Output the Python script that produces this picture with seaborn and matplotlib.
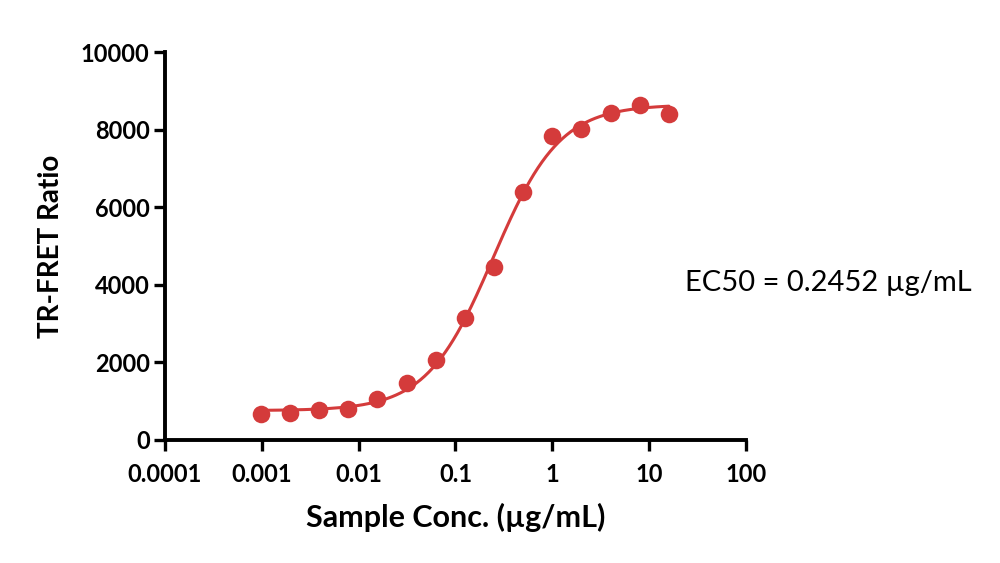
import numpy as np
import pandas as pd
import matplotlib
matplotlib.use("Agg")
import matplotlib.pyplot as plt
import seaborn as sns

# ---- data ----
conc = [0.0009766, 0.001953, 0.003906, 0.007813, 0.01563, 0.03125, 0.0625,
        0.125, 0.25, 0.5, 1, 2, 4, 8, 16]
signal = [676, 692, 754, 805, 1045, 1466, 2052, 3143, 4459, 6395, 7840,
          8031, 8434, 8650, 8408]
ec50 = 0.2452
x_ticks = [0.0001, 0.001, 0.01, 0.1, 1, 10, 100]
x_tick_labels = ["0.0001", "0.001", "0.01", "0.1", "1", "10", "100"]
y_ticks = [0, 2000, 4000, 6000, 8000, 10000]

# ---- 4PL fit with fixed EC50 (grid over Hill slope, linear LSQ for bottom/top) ----
xd = np.array(conc)
yd = np.array(signal, dtype=float)
best = None
for h in np.linspace(0.5, 3.0, 501):
    f = 1.0 / (1.0 + (ec50 / xd) ** h)
    A = np.column_stack([1 - f, f])
    coef, *_ = np.linalg.lstsq(A, yd, rcond=None)
    err = np.sum((A @ coef - yd) ** 2)
    if best is None or err < best[0]:
        best = (err, h, coef)
_, hill, (bottom, top) = best
xf = np.logspace(np.log10(xd.min()), np.log10(xd.max()), 300)
yf = bottom + (top - bottom) / (1.0 + (ec50 / xf) ** hill)

pts = pd.DataFrame({"conc": conc, "signal": signal})
fit = pd.DataFrame({"conc": xf, "signal": yf})

sns.set_style("ticks")
plt.rcParams["font.family"] = ["Lato", "DejaVu Sans"]
plt.rcParams["text.color"] = "black"
plt.rcParams["axes.labelcolor"] = "black"
plt.rcParams["xtick.color"] = "black"
plt.rcParams["ytick.color"] = "black"

red = "#D43B3B"
fig = plt.figure(figsize=(10, 5.63), dpi=100)
ax = fig.add_axes([0.165, 0.219, 0.581, 0.688])

sns.lineplot(data=fit, x="conc", y="signal", ax=ax, color=red, linewidth=2.2)
sns.scatterplot(data=pts, x="conc", y="signal", ax=ax, color=red, s=160,
                edgecolor=red, linewidth=0, zorder=3)

ax.set_xscale("log")
ax.set_xlim(0.0001, 100)
ax.set_ylim(0, 10000)
ax.set_xticks(x_ticks)
ax.set_xticklabels(x_tick_labels)
ax.minorticks_off()
ax.set_yticks(y_ticks)
ax.set_yticklabels([str(v) for v in y_ticks])

for s in ["top", "right"]:
    ax.spines[s].set_visible(False)
for s in ["left", "bottom"]:
    ax.spines[s].set_linewidth(2.8)
    ax.spines[s].set_color("black")
ax.tick_params(axis="both", which="major", length=8, width=2.4, color="black",
               labelcolor="black", labelsize=17)
ax.tick_params(axis="x", pad=9)
ax.tick_params(axis="y", pad=3)
for lab in ax.get_xticklabels() + ax.get_yticklabels():
    lab.set_fontweight("bold")

ax.set_xlabel("Sample Conc. (µg/mL)", fontsize=22, fontweight="bold",
              labelpad=12, color="black")
ax.set_ylabel("TR-FRET Ratio", fontsize=20, fontweight="bold",
              labelpad=12, color="black")

fig.text(0.685, 1 - 283 / 563, "EC50 = 0.2452 µg/mL", fontsize=21,
         va="center", ha="left", color="black")

fig.savefig("out.png", dpi=100)
